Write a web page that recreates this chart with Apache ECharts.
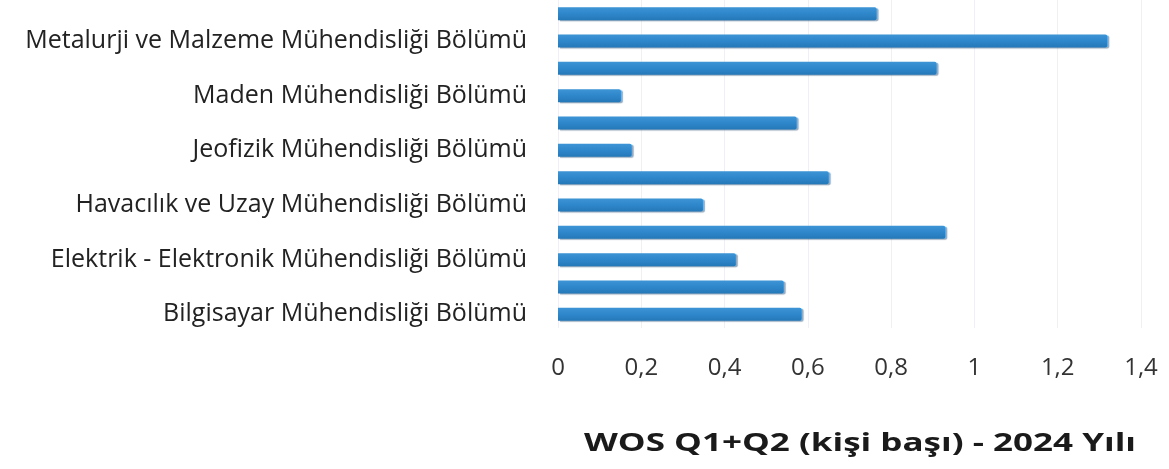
<!DOCTYPE html>
<html><head><meta charset="utf-8">
<script src="https://cdn.jsdelivr.net/npm/echarts@6/dist/echarts.min.js"></script>
<style>html,body{margin:0;padding:0;background:#fff}#c{width:1169px;height:469px}</style>
</head><body><div id="c"></div>
<script>
// bottom to top
const categories = [
  'Bilgisayar Mühendisliği Bölümü', '',
  'Elektrik - Elektronik Mühendisliği Bölümü', '',
  'Havacılık ve Uzay Mühendisliği Bölümü', '',
  'Jeofizik Mühendisliği Bölümü', '',
  'Maden Mühendisliği Bölümü', '',
  'Metalurji ve Malzeme Mühendisliği Bölümü', ''
];
const values = [0.585, 0.542, 0.427, 0.93, 0.348, 0.65, 0.177, 0.573, 0.151, 0.909, 1.319, 0.765];
const xTicks = { min: 0, max: 1.4, interval: 0.2 };
const title = 'WOS Q1+Q2 (kişi başı) - 2024 Yılı';

const chart = echarts.init(document.getElementById('c'));
chart.setOption({
  animation: false,
  textStyle: { fontFamily: 'Open Sans' },
  graphic: [{
    type: 'text', x: 860, y: 444, scaleX: 1.4, scaleY: 1,
    style: {
      text: title, align: 'center', verticalAlign: 'middle',
      font: 'bold 25px "Open Sans"', fill: '#1a1a1a'
    }
  }],
  grid: { left: 558, right: 28, top: -2, bottom: 141 },
  xAxis: {
    type: 'value', min: xTicks.min, max: xTicks.max, interval: xTicks.interval,
    axisLine: { show: false }, axisTick: { show: false },
    splitLine: { show: true, lineStyle: { color: '#f0f0f4', width: 1 } },
    axisLabel: {
      margin: 28, fontSize: 24, color: '#333', fontFamily: 'Open Sans',
      formatter: v => String(Math.round(v * 10) / 10).replace('.', ',')
    }
  },
  yAxis: {
    type: 'category', data: categories,
    axisLine: { show: false }, axisTick: { show: false },
    axisLabel: { interval: 0, margin: 31, fontSize: 25, color: '#222', fontFamily: 'Open Sans', padding: [5, 0, 0, 0] }
  },
  series: [{
    type: 'bar', data: values, barWidth: 13,
    itemStyle: {
      color: new echarts.graphic.LinearGradient(0, 0, 0, 1, [
        { offset: 0, color: '#3d95d6' },
        { offset: 0.5, color: '#2f87cb' },
        { offset: 1, color: '#2478b8' }
      ]),
      borderRadius: [0, 2, 2, 0],
      shadowColor: 'rgba(20,60,100,0.45)', shadowOffsetX: 2, shadowOffsetY: 1, shadowBlur: 1
    }
  }]
});
</script></body></html>
